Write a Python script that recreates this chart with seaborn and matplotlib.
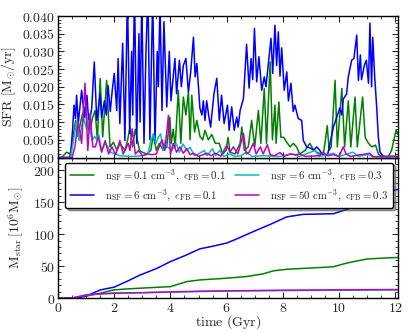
import matplotlib
matplotlib.use("Agg")
import matplotlib.pyplot as plt
from matplotlib.ticker import MultipleLocator, FuncFormatter
import seaborn as sns
import pandas as pd

# ---------------- data ----------------
labels = [r"$\mathrm{n}_{\rm SF}=0.1\ {\rm cm}^{-3},\ \epsilon_{\rm FB}=0.1$",
          r"$\mathrm{n}_{\rm SF}=6\ {\rm cm}^{-3},\ \epsilon_{\rm FB}=0.1$",
          r"$\mathrm{n}_{\rm SF}=6\ {\rm cm}^{-3},\ \epsilon_{\rm FB}=0.3$",
          r"$\mathrm{n}_{\rm SF}=50\ {\rm cm}^{-3},\ \epsilon_{\rm FB}=0.3$"]
colors = ["#008000", "#0000ff", "#00bfbf", "#bf00bf"]

green_t = [0.0, 0.13, 0.31, 0.43, 0.5, 0.63, 0.7, 0.78, 0.86, 0.96, 1.05, 1.14, 1.22, 1.32, 1.4, 1.5, 1.59, 1.73,
           1.85, 1.97, 2.1, 2.2, 2.38, 2.48, 2.56, 2.65, 2.75, 2.9, 3.0, 3.15, 3.3, 3.39, 3.5, 3.6, 3.75, 3.87,
           3.98, 4.03, 4.1, 4.17, 4.28, 4.37, 4.46, 4.55, 4.64, 4.7, 4.76, 4.86, 4.94, 5.05, 5.15, 5.23, 5.35,
           5.47, 5.6, 5.74, 5.86, 5.98, 6.05, 6.12, 6.3, 6.48, 6.54, 6.63, 6.77, 6.89, 7.0, 7.13, 7.22, 7.34,
           7.42, 7.55, 7.63, 7.72, 7.76, 7.86, 7.93, 8.03, 8.14, 8.26, 8.37, 8.49, 8.6, 8.79, 8.96, 9.07, 9.2,
           9.35, 9.45, 9.5, 9.58, 9.65, 9.72, 9.86, 9.94, 10.1, 10.2, 10.33, 10.42, 10.57, 10.65, 10.84, 10.93,
           11.05, 11.17, 11.3, 11.4, 11.5, 11.75, 11.87, 12.03, 12.1]
green_sfr = [0.0, 0.0, 0.0015, 0.001, 0.004, 0.0105, 0.006, 0.009, 0.012, 0.0143, 0.009, 0.0072, 0.011, 0.0133,
             0.005, 0.0223, 0.0058, 0.0218, 0.003, 0.0043, 0.002, 0.004, 0.002, 0.005, 0.0086, 0.003, 0.008,
             0.002, 0.0015, 0.001, 0.002, 0.0062, 0.002, 0.004, 0.002, 0.003, 0.0114, 0.004, 0.008, 0.003,
             0.019, 0.004, 0.0171, 0.012, 0.0185, 0.005, 0.0176, 0.0072, 0.0105, 0.006, 0.005, 0.0077, 0.005,
             0.0065, 0.004, 0.004, 0.001, 0.002, 0.0057, 0.0015, 0.001, 0.004, 0.0086, 0.002, 0.003, 0.0105,
             0.003, 0.0133, 0.004, 0.0195, 0.004, 0.027, 0.005, 0.0148, 0.004, 0.0157, 0.0057, 0.0057, 0.0043,
             0.003, 0.004, 0.003, 0.001, 0.002, 0.004, 0.0025, 0.0015, 0.001, 0.0015, 0.004, 0.009, 0.002,
             0.003, 0.0218, 0.003, 0.0195, 0.003, 0.016, 0.003, 0.0171, 0.003, 0.0171, 0.0057, 0.004, 0.003,
             0.0035, 0.001, 0.0003, 0.0002, 0.002, 0.0077, 0.0065]

blue_t = [0.0, 0.4, 0.45, 0.52, 0.57, 0.62, 0.66, 0.72, 0.84, 0.94, 1.03, 1.1, 1.2, 1.29, 1.38, 1.5, 1.55, 1.65,
          1.72, 1.78, 1.86, 1.93, 2.0, 2.09, 2.14, 2.2, 2.3, 2.38, 2.47, 2.55, 2.62, 2.66, 2.72, 2.8, 2.88,
          2.92, 2.98, 3.06, 3.13, 3.2, 3.27, 3.37, 3.45, 3.53, 3.57, 3.63, 3.7, 3.77, 3.87, 3.96, 4.02, 4.09,
          4.16, 4.22, 4.32, 4.39, 4.46, 4.55, 4.64, 4.72, 4.82, 4.88, 4.94, 5.05, 5.12, 5.17, 5.23, 5.29,
          5.36, 5.43, 5.55, 5.65, 5.74, 5.82, 5.91, 6.03, 6.09, 6.18, 6.27, 6.36, 6.41, 6.48, 6.6, 6.71, 6.8,
          6.87, 6.93, 6.99, 7.07, 7.15, 7.25, 7.34, 7.4, 7.48, 7.58, 7.64, 7.72, 7.78, 7.84, 7.9, 7.96, 8.05,
          8.14, 8.2, 8.29, 8.37, 8.43, 8.55, 8.67, 8.73, 8.85, 9.0, 9.1, 9.2, 9.3, 9.38, 9.5, 9.6, 9.68, 9.8,
          9.92, 10.03, 10.1, 10.15, 10.27, 10.33, 10.45, 10.53, 10.63, 10.69, 10.76, 10.8, 10.9, 10.97, 11.05,
          11.1, 11.16, 11.2, 11.27, 11.34, 11.4, 11.46, 11.58, 11.8, 12.1]
blue_sfr = [0.0, 0.0, 0.001, 0.008, 0.0148, 0.011, 0.0176, 0.0096, 0.019, 0.0113, 0.0176, 0.009, 0.014, 0.027,
            0.0105, 0.018, 0.0113, 0.016, 0.012, 0.0204, 0.013, 0.019, 0.0238, 0.0133, 0.028, 0.0096, 0.0323,
            0.0048, 0.046, 0.0068, 0.03, 0.012, 0.048, 0.004, 0.035, 0.01, 0.045, 0.004, 0.03, 0.047, 0.005,
            0.046, 0.004, 0.03, 0.02, 0.044, 0.0133, 0.0384, 0.0143, 0.030, 0.016, 0.022, 0.028, 0.018, 0.0275,
            0.020, 0.026, 0.028, 0.0185, 0.024, 0.034, 0.0228, 0.0266, 0.0139, 0.012, 0.016, 0.0105, 0.016,
            0.012, 0.0086, 0.018, 0.0224, 0.0105, 0.0176, 0.0096, 0.0148, 0.0077, 0.0143, 0.0077, 0.0114,
            0.0086, 0.0133, 0.0167, 0.032, 0.0196, 0.028, 0.022, 0.0365, 0.0214, 0.0285, 0.019, 0.0228, 0.020,
            0.026, 0.0337, 0.0238, 0.0374, 0.026, 0.0355, 0.023, 0.031, 0.019, 0.0242, 0.016, 0.021, 0.013,
            0.0148, 0.011, 0.0105, 0.0048, 0.003, 0.0026, 0.002, 0.003, 0.0022, 0.0012, 0.0005, 0.001, 0.004,
            0.0086, 0.0114, 0.014, 0.012, 0.0165, 0.018, 0.0228, 0.0275, 0.028, 0.0346, 0.0218, 0.029, 0.022,
            0.026, 0.0275, 0.021, 0.038, 0.020, 0.034, 0.0228, 0.0143, 0.0057, 0.0015, 0.0003, 0.0002, 0.0003]

cyan_t = [0.0, 0.45, 0.55, 0.66, 0.75, 0.9, 1.02, 1.08, 1.21, 1.3, 1.38, 1.45, 1.55, 1.68, 1.78, 1.85, 2.03,
          2.2, 2.6, 3.0, 3.2, 3.28, 3.39, 3.48, 3.57, 3.65, 3.75, 3.82, 3.9, 4.05, 4.2, 4.32, 4.45, 4.58, 4.7,
          4.85, 5.0, 5.2, 5.3, 5.5, 5.6, 5.75, 5.9, 6.1, 6.3, 6.5, 6.7, 6.9, 7.3, 7.9, 8.3, 8.6, 9.15, 9.3,
          9.8, 10.0, 10.5, 10.7, 11.0, 11.3, 12.1]
cyan_sfr = [0.0, 0.0, 0.0048, 0.010, 0.0048, 0.0114, 0.008, 0.0105, 0.0048, 0.006, 0.005, 0.0065, 0.002,
            0.004, 0.003, 0.0015, 0.001, 0.0005, 0.0003, 0.0005, 0.001, 0.004, 0.0067, 0.004, 0.0057, 0.0067,
            0.002, 0.005, 0.003, 0.002, 0.004, 0.0015, 0.0038, 0.002, 0.0029, 0.0005, 0.001, 0.002, 0.0005,
            0.0025, 0.0005, 0.002, 0.0003, 0.001, 0.0003, 0.0005, 0.0015, 0.0003, 0.0005, 0.0003, 0.001,
            0.0003, 0.002, 0.0003, 0.0012, 0.0003, 0.0015, 0.0003, 0.0008, 0.0002, 0.0002]

mag_t = [0.0, 0.5, 0.6, 0.72, 0.84, 0.96, 1.06, 1.14, 1.24, 1.33, 1.43, 1.55, 1.68, 1.8, 1.92, 2.05, 2.2, 2.32,
         2.5, 2.56, 2.64, 2.75, 2.87, 3.0, 3.2, 3.35, 3.5, 3.7, 3.8, 3.93, 4.0, 4.1, 4.22, 4.34, 4.46, 4.58,
         4.7, 4.82, 5.0, 5.3, 5.45, 5.6, 5.8, 6.0, 6.12, 6.24, 6.4, 6.6, 6.7, 6.8, 6.95, 7.05, 7.2, 7.3, 7.45,
         7.55, 7.7, 7.9, 8.05, 8.25, 8.45, 8.6, 8.8, 9.3, 9.43, 9.6, 9.8, 10.0, 10.15, 10.25, 10.4, 11.1, 11.2,
         11.9, 12.1]
mag_sfr = [0.0, 0.0, 0.003, 0.010, 0.004, 0.021, 0.002, 0.0124, 0.003, 0.003, 0.0058, 0.0015, 0.0048, 0.001,
           0.003, 0.0008, 0.0048, 0.001, 0.004, 0.002, 0.0081, 0.001, 0.002, 0.0005, 0.001, 0.0008, 0.001,
           0.005, 0.002, 0.0119, 0.001, 0.004, 0.0015, 0.003, 0.0012, 0.0025, 0.0008, 0.0012, 0.0003, 0.0012,
           0.0005, 0.0012, 0.0004, 0.0034, 0.0015, 0.003, 0.001, 0.0068, 0.001, 0.0015, 0.004, 0.001, 0.003,
           0.001, 0.0036, 0.0008, 0.0005, 0.0014, 0.0003, 0.001, 0.0008, 0.001, 0.0003, 0.0005, 0.0015,
           0.0005, 0.0008, 0.0003, 0.003, 0.001, 0.0003, 0.0012, 0.0002, 0.0004, 0.0002]

# stellar mass [1e6 Msun]
green_mt = [0.0, 0.6, 1.0, 1.5, 1.97, 2.44, 3.2, 4.0, 4.58, 5.05, 6.0, 6.71, 7.3, 7.66, 8.14, 8.8, 9.56, 9.8,
            10.27, 10.98, 11.58, 12.1]
green_mass = [0, 0, 3, 7.4, 12.6, 14.2, 16, 17.8, 25.7, 28.3, 31, 33.6, 37.8, 42.5, 45, 46.5, 48.3, 49, 54.6,
              61, 62.5, 63.5]
blue_mt = [0.0, 0.6, 1.0, 1.5, 2.0, 2.5, 2.92, 3.5, 4.0, 4.5, 5.05, 5.5, 6.0, 6.36, 6.95, 7.54, 8.14, 8.73, 9.3,
           9.8, 10.27, 10.6, 10.87, 11.2, 11.6, 12.1]
blue_mass = [0, 0, 3, 12.6, 17, 27, 36, 46, 57, 66, 77, 81, 86, 92.5, 104, 115, 127, 131, 131.5, 132, 138.6,
             145, 154, 160, 165, 170]
cyan_mt = [0.0, 0.5, 1.0, 1.5, 2.0, 3.0, 4.0, 5.0, 6.0, 8.0, 10.0, 12.1]
cyan_mass = [0, 0, 4.5, 6.3, 7.4, 8.2, 9.2, 10.2, 10.8, 11.6, 12.2, 12.6]
mag_mt = [0.0, 0.5, 1.0, 1.5, 2.0, 3.0, 4.0, 5.0, 6.0, 8.0, 10.0, 12.1]
mag_mass = [0, 0, 4.8, 6.6, 7.6, 8.4, 9.5, 10.5, 11.2, 12.2, 12.8, 13.3]

# ---------------- style ----------------
sns.set_style("ticks")
plt.rcParams["font.family"] = ["DejaVu Serif"]
plt.rcParams["mathtext.fontset"] = "cm"
plt.rcParams["xtick.direction"] = "in"
plt.rcParams["ytick.direction"] = "in"

fig = plt.figure(figsize=(4.15, 3.32), dpi=100)
ax2 = fig.add_axes([0.1398, 0.1024, 0.8193, 0.4232])
ax1 = fig.add_axes([0.1398, 0.5256, 0.8193, 0.4262], sharex=ax2)

sfr_sets = [(green_t, green_sfr), (blue_t, blue_sfr), (cyan_t, cyan_sfr), (mag_t, mag_sfr)]
mass_sets = [(green_mt, green_mass), (blue_mt, blue_mass), (cyan_mt, cyan_mass), (mag_mt, mag_mass)]

for (t, v), c, lab in zip(sfr_sets, colors, labels):
    sns.lineplot(x=t, y=v, color=c, linewidth=1.1, ax=ax1, sort=False, estimator=None)
for (t, v), c, lab in zip(mass_sets, colors, labels):
    sns.lineplot(x=t, y=v, color=c, linewidth=1.1, ax=ax2, sort=False, estimator=None, label=lab)

fs = 10
mfmt = lambda fmt: FuncFormatter(lambda v, p: "$" + (fmt % v) + "$")

ax1.set_xlim(0, 12.1)
ax1.set_ylim(0, 0.04)
ax1.yaxis.set_major_locator(MultipleLocator(0.005))
ax1.yaxis.set_minor_locator(MultipleLocator(0.001))
ax1.yaxis.set_major_formatter(mfmt("%.3f"))
ax1.tick_params(labelbottom=False)
ax1.set_ylabel(r"$\mathrm{SFR}\ [\mathrm{M}_{\odot}/\mathrm{yr}]$", fontsize=fs, labelpad=3)
ax1.set_xlabel("")

ax2.set_ylim(0, 220)
ax2.xaxis.set_major_locator(MultipleLocator(2))
ax2.xaxis.set_minor_locator(MultipleLocator(0.5))
ax2.xaxis.set_major_formatter(mfmt("%d"))
ax2.yaxis.set_major_locator(MultipleLocator(50))
ax2.yaxis.set_minor_locator(MultipleLocator(10))
ax2.yaxis.set_major_formatter(mfmt("%d"))
ax2.set_xlabel(r"$\mathrm{time\ (Gyr)}$", fontsize=fs, labelpad=-1)
ax2.set_ylabel(r"$\mathrm{M}_{\rm star}\,[10^6\mathrm{M}_{\odot}]$", fontsize=fs, labelpad=5)

for ax in (ax1, ax2):
    ax.tick_params(which="both", top=True, right=True, direction="in", labelsize=fs, pad=2)
    ax.tick_params(which="major", length=4.5, width=0.8)
    ax.tick_params(which="minor", length=2.2, width=0.6)
    for s in ax.spines.values():
        s.set_linewidth(1.0)
        s.set_color("black")

leg = ax2.legend(loc="upper center", bbox_to_anchor=(0.503, 0.964),
                 ncol=2, fontsize=7.8, frameon=True, fancybox=True, shadow=True,
                 borderaxespad=0, handlelength=2.2, labelspacing=0.35, borderpad=0.45,
                 columnspacing=0.9, handletextpad=1.0)
leg.get_frame().set_edgecolor("black")
leg.get_frame().set_linewidth(1.0)
leg.get_frame().set_alpha(1.0)

fig.savefig("out.png", dpi=100)
